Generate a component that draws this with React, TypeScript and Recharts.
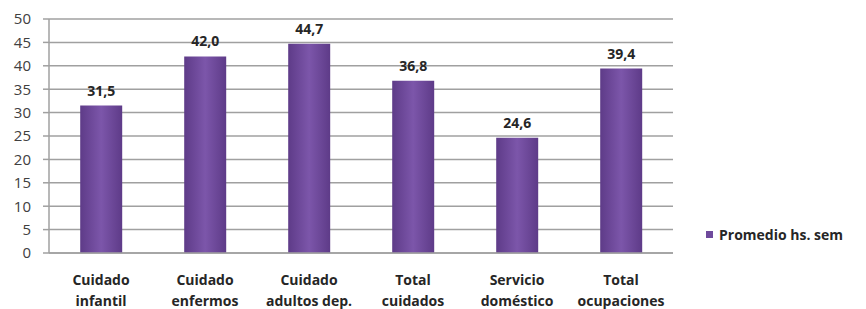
import React from 'react';
import { BarChart, Bar, XAxis, YAxis, CartesianGrid, LabelList } from 'recharts';

const categories = [
  ['Cuidado', 'infantil'],
  ['Cuidado', 'enfermos'],
  ['Cuidado', 'adultos dep.'],
  ['Total', 'cuidados'],
  ['Servicio', 'doméstico'],
  ['Total', 'ocupaciones'],
];
const values = [31.5, 42.0, 44.7, 36.8, 24.6, 39.4];
const yTicks = [0, 5, 10, 15, 20, 25, 30, 35, 40, 45, 50];
const seriesName = 'Promedio hs. sem';

const data = categories.map((c, i) => ({ name: c.join('\n'), value: values[i] }));

const FONT = '"Open Sans", "Noto Sans", sans-serif';

const XTick = (props: any) => {
  const { x, y, payload } = props;
  const lines = String(payload.value).split('\n');
  return (
    <g transform={`translate(${x},${y})`}>
      {lines.map((l, i) => (
        <text key={i} x={0} y={24 + i * 21} textAnchor="middle" fill="#262626" fontSize={14} fontWeight="bold" fontFamily={FONT}>
          {l}
        </text>
      ))}
    </g>
  );
};

export default function App() {
  return (
    <div style={{ position: 'absolute', left: 0, top: 0, width: 866, height: 309, background: '#fff' }}>
      <BarChart width={866} height={309} data={data} margin={{ top: 19, right: 193, bottom: 0, left: 0 }} barCategoryGap="30%">
        <defs>
          <linearGradient id="barGrad" x1="0" y1="0" x2="1" y2="0">
            <stop offset="0%" stopColor="#5e3b88" />
            <stop offset="50%" stopColor="#7c56aa" />
            <stop offset="100%" stopColor="#5e3b88" />
          </linearGradient>
        </defs>
        <CartesianGrid vertical={false} stroke="#a0a0a0" strokeWidth={1.5} />
        <XAxis dataKey="name" height={56} tick={<XTick />} tickLine={false} axisLine={{ stroke: '#a0a0a0', strokeWidth: 1.5 }} interval={0} />
        <YAxis
          domain={[0, 50]}
          ticks={yTicks}
          interval={0}
          width={49}
          tickSize={6}
          tickMargin={12}
          tickLine={{ stroke: '#a0a0a0', strokeWidth: 1.5 }}
          axisLine={{ stroke: '#a0a0a0', strokeWidth: 1.5 }}
          tick={{ fill: '#404040', fontSize: 15, fontFamily: FONT }}
        />
        <Bar dataKey="value" name={seriesName} fill="url(#barGrad)" isAnimationActive={false}>
          <LabelList
            dataKey="value"
            position="top"
            offset={10}
            formatter={(v: any) => Number(v).toFixed(1).replace('.', ',')}
            style={{ fill: '#262626', fontSize: 14, fontWeight: 'bold', fontFamily: FONT }}
          />
        </Bar>
      </BarChart>
      <div style={{ position: 'absolute', left: 706, top: 225, display: 'flex', alignItems: 'center', fontFamily: FONT, fontSize: 14, fontWeight: 'bold', color: '#262626', whiteSpace: 'nowrap' }}>
        <span style={{ display: 'inline-block', width: 7, height: 7, background: '#6f4a9c', marginRight: 6 }} />
        {seriesName}
      </div>
    </div>
  );
}
